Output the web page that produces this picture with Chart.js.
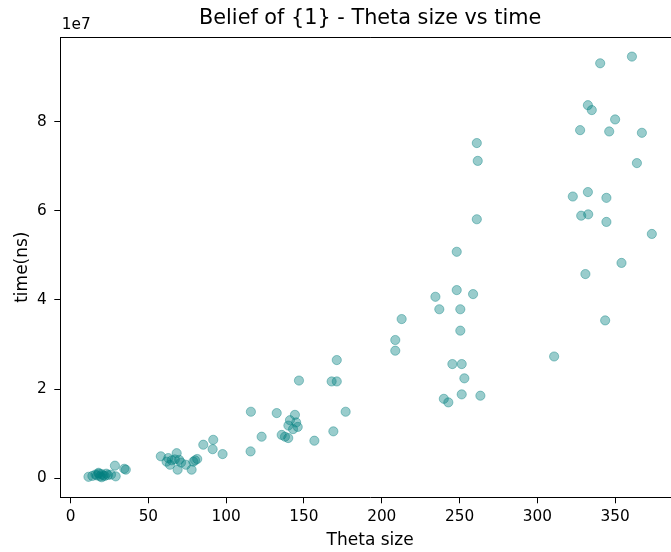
<!DOCTYPE html>
<html>
<head>
<meta charset="utf-8">
<script src="https://cdn.jsdelivr.net/npm/chart.js@4.4.1/dist/chart.umd.min.js"></script>
<style>
  html, body { margin: 0; padding: 0; background: #fff; overflow: hidden; }
  #wrap { width: 690px; height: 552px; position: relative; }
</style>
</head>
<body>
<div id="wrap"><canvas id="c"></canvas></div>
<script>
// ---- data ----
const thetaSize = [
  11.5, 14, 16, 17, 18, 19, 20, 21, 22, 23, 24, 20, 18, 26, 28.5, 29, 34.5, 35.5,
  58, 61.7, 62.8, 63.9, 65, 67, 68.2, 69.8, 68.8, 71, 74.1, 77.8, 78.9, 80, 81.4, 85.3, 91.7, 91.3, 97.7,
  115.9, 115.7, 122.8, 132.5, 135.7, 137.8, 139.9, 140, 141, 143, 144.2, 145, 146, 146.8, 156.7, 167.8, 171.1, 171.1, 168.9, 176.8,
  208.7, 208.7, 212.8, 234.5, 237, 239.9, 242.8, 245.4, 248.2, 248.2, 250.5, 250.5, 251.4, 253.1, 251.4, 258.7, 261.1, 261.7, 261.1, 263.4,
  310.8, 322.8, 327.5, 328.2, 330.9, 332.5, 332.5, 332.7, 335, 340.4, 343.6, 344.4, 344.4, 346.2, 350, 354.1, 360.8, 364, 367.2, 373.6
];
const timeNs = [
  300000, 500000, 800000, 600000, 1000000, 400000, 900000, 600000, 500000, 1000000, 700000, 200000, 1200000, 800000, 2800000, 400000, 2100000, 1900000,
  4900000, 3700000, 4500000, 3000000, 4000000, 4200000, 5600000, 4100000, 1900000, 3500000, 3000000, 1900000, 3700000, 4000000, 4300000, 7500000, 8600000, 6500000, 5400000,
  14900000, 6000000, 9300000, 14600000, 9700000, 9300000, 9000000, 11800000, 13000000, 11000000, 14200000, 12500000, 11500000, 21900000, 8400000, 21700000, 21700000, 26500000, 10500000, 14900000,
  31000000, 28600000, 35700000, 40700000, 37900000, 17800000, 17000000, 25600000, 50800000, 42200000, 37900000, 33100000, 25600000, 22400000, 18800000, 41300000, 75200000, 71200000, 58100000, 18500000,
  27300000, 63200000, 78100000, 58900000, 45800000, 83700000, 64200000, 59200000, 82600000, 93100000, 35400000, 62900000, 57500000, 77800000, 80500000, 48300000, 94600000, 70700000, 77500000, 54800000
];
const xTicks = [0, 50, 100, 150, 200, 250, 300, 350];
const yTicks = [0, 20000000, 40000000, 60000000, 80000000];
const yTickLabels = ['0', '2', '4', '6', '8'];
const titleText = 'Belief of {1} - Theta size vs time';
const xLabel = 'Theta size';
const yLabel = 'time(ns)';
const yOffsetText = '1e7';

const points = thetaSize.map((x, i) => ({ x: x, y: timeNs[i] }));
const FONT = 'DejaVu Sans';
const TICK_SIZE = 15.3;
const LABEL_SIZE = 17;
const TITLE_SIZE = 20.8;

const overlay = {
  id: 'overlay',
  afterDraw(chart) {
    const ctx = chart.ctx;
    const a = chart.chartArea;
    ctx.save();
    ctx.strokeStyle = '#000';
    ctx.lineWidth = 1;
    ctx.beginPath();
    ctx.moveTo(a.left, a.top + 0.5);
    ctx.lineTo(a.right, a.top + 0.5);
    ctx.moveTo(a.right - 0.5, a.top);
    ctx.lineTo(a.right - 0.5, a.bottom);
    ctx.stroke();
    ctx.fillStyle = '#000';
    ctx.font = TITLE_SIZE + 'px "' + FONT + '"';
    ctx.textAlign = 'center';
    ctx.textBaseline = 'middle';
    ctx.fillText(titleText, (a.left + a.right) / 2, 18.5);
    ctx.font = TICK_SIZE + 'px "' + FONT + '"';
    ctx.textAlign = 'left';
    ctx.fillText(yOffsetText, a.left + 1.5, 25);
    ctx.restore();
  }
};

new Chart(document.getElementById('c'), {
  type: 'scatter',
  data: {
    datasets: [{
      data: points,
      backgroundColor: 'rgba(0,128,128,0.4)',
      borderColor: 'rgba(0,128,128,0.4)',
      borderWidth: 1,
      pointRadius: 4.6,
      pointHoverRadius: 4.6
    }]
  },
  options: {
    responsive: true,
    maintainAspectRatio: false,
    animation: false,
    devicePixelRatio: 1,
    layout: { padding: { top: 37, right: 10, left: 0, bottom: 0 } },
    plugins: { legend: { display: false }, tooltip: { enabled: false }, title: { display: false } },
    scales: {
      x: {
        type: 'linear',
        min: -6.6,
        max: 391.7,
        afterBuildTicks(s) { s.ticks = xTicks.map(v => ({ value: v })); },
        afterFit(s) { s.height = 54.7; },
        grid: { drawOnChartArea: false, drawTicks: true, tickLength: 6, tickColor: '#000', tickWidth: 1 },
        border: { display: true, color: '#000', width: 1 },
        ticks: { color: '#000', font: { family: FONT, size: TICK_SIZE }, padding: 5, maxRotation: 0, autoSkip: false },
        title: { display: true, text: xLabel, color: '#000', font: { family: FONT, size: LABEL_SIZE }, padding: { top: 2, bottom: 1 } }
      },
      y: {
        type: 'linear',
        min: -4300000,
        max: 99000000,
        afterBuildTicks(s) { s.ticks = yTicks.map(v => ({ value: v })); },
        afterFit(s) { s.width = 60.3; },
        grid: { drawOnChartArea: false, drawTicks: true, tickLength: 6, tickColor: '#000', tickWidth: 1 },
        border: { display: true, color: '#000', width: 1 },
        ticks: {
          color: '#000', font: { family: FONT, size: TICK_SIZE }, padding: 7.6, autoSkip: false,
          callback(v) { const i = yTicks.indexOf(v); return i >= 0 ? yTickLabels[i] : ''; }
        },
        title: { display: true, text: yLabel, color: '#000', font: { family: FONT, size: LABEL_SIZE }, padding: { top: 12.5, bottom: 4 } }
      }
    }
  },
  plugins: [overlay]
});
</script>
</body>
</html>
